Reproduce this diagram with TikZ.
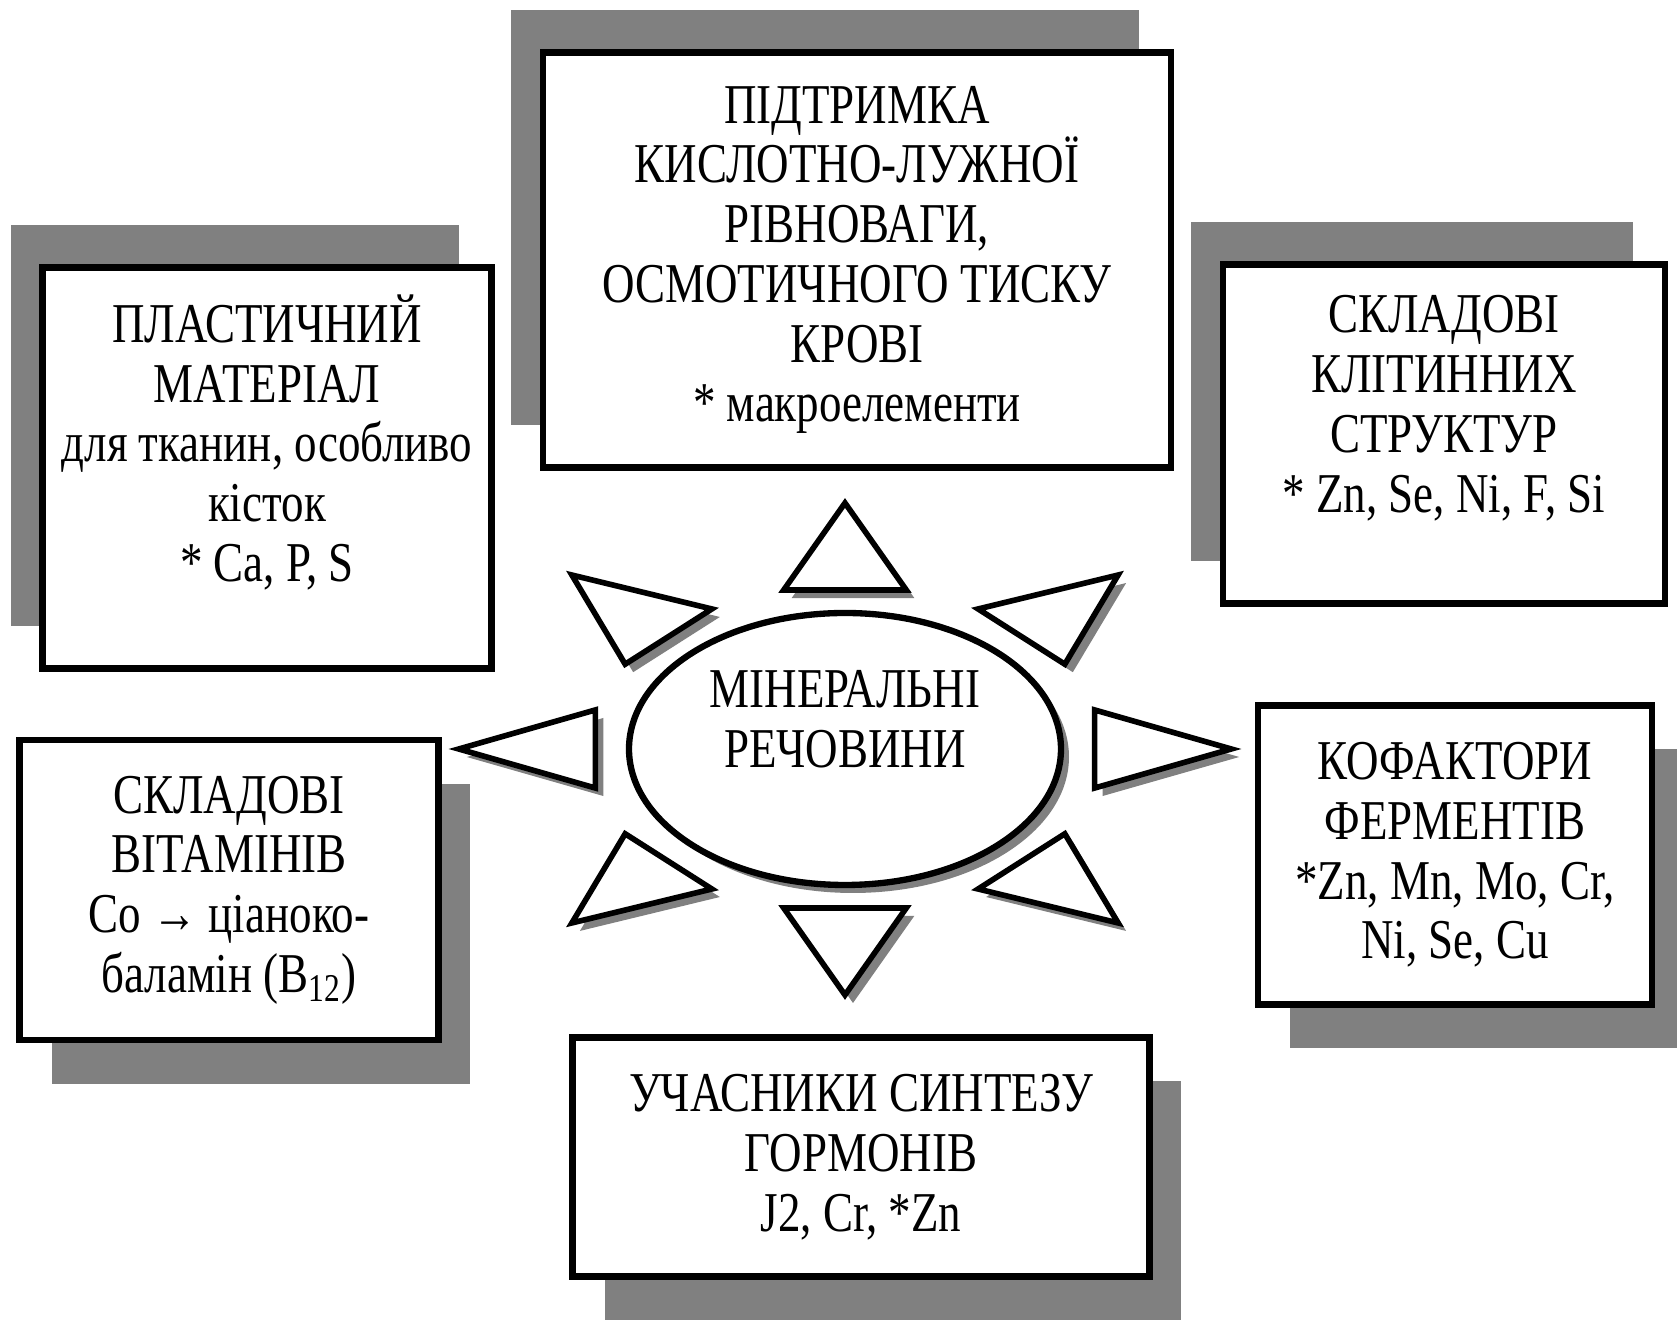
\documentclass[tikz,border=0pt]{standalone}
\usepackage{fontspec}
\setmainfont{Liberation Serif}[FakeStretch=0.8]
\usetikzlibrary{shapes.geometric,shadows}

\definecolor{boxshadow}{gray}{0.5}

\tikzset{
  box/.style={draw, line width=1.8pt, fill=white, align=center, inner sep=0pt,
    font=\fontsize{16}{17}\selectfont},
  upshadow/.style={general shadow={fill=boxshadow, shadow xshift=-3.2mm, shadow yshift=4.2mm}},
  downshadow/.style={general shadow={fill=boxshadow, shadow xshift=3.2mm, shadow yshift=-4.4mm}},
  ray/.style={draw, line width=1.6pt, fill=white, line join=miter,
    general shadow={fill=boxshadow, shadow xshift=0.8mm, shadow yshift=-0.8mm}},
  core/.style={ellipse, draw, line width=1.8pt, fill=white, inner sep=0pt, align=center,
    font=\fontsize{16}{17}\selectfont,
    general shadow={fill=boxshadow, shadow xshift=0.8mm, shadow yshift=-0.8mm}},
}

\begin{document}
\begin{tikzpicture}[x=0.1mm, y=-0.1mm]
\useasboundingbox (0,0) rectangle (1677,1322);

% boxes with shadow up-left
\node[box, upshadow, minimum width=44.9mm, minimum height=40.1mm, text depth=6mm] (plast) at (267,468)
  {ПЛАСТИЧНИЙ\\МАТЕРІАЛ\\для тканин, особливо\\кісток\\* Ca, P, S};
\node[box, upshadow, minimum width=62.8mm, minimum height=41.5mm] (acid) at (857,260)
  {ПІДТРИМКА\\КИСЛОТНО-ЛУЖНОЇ\\РІВНОВАГИ,\\ОСМОТИЧНОГО ТИСКУ\\КРОВІ\\* макроелементи};
\node[box, upshadow, minimum width=44.2mm, minimum height=33.9mm, text depth=6mm] (cell) at (1444,434)
  {СКЛАДОВІ\\КЛІТИННИХ\\СТРУКТУР\\* Zn, Se, Ni, F, Si};

% boxes with shadow down-right
\node[box, downshadow, minimum width=41.9mm, minimum height=30mm] (vit) at (229,890)
  {СКЛАДОВІ\\ВІТАМІНІВ\\Co → ціаноко-\\баламін (B\textsubscript{12})};
\node[box, downshadow, minimum width=39.4mm, minimum height=29.9mm] (cof) at (1455,855)
  {КОФАКТОРИ\\ФЕРМЕНТІВ\\*Zn, Mn, Mo, Cr,\\Ni, Se, Cu};
\node[box, downshadow, minimum width=57.7mm, minimum height=23.9mm] (horm) at (861,1157)
  {УЧАСНИКИ СИНТЕЗУ\\ГОРМОНІВ\\J2, Cr, *Zn};

% the sun
\begin{scope}[shift={(845,749)}, xscale=1.57]
\foreach \a in {0,45,...,315}
  \draw[ray] (\a:246) -- (\a+13.8:163.7) -- (\a-13.8:163.7) -- cycle;
\end{scope}
\node[core, minimum width=43.2mm, minimum height=27.2mm, text depth=6mm] (min) at (845,749)
  {МІНЕРАЛЬНІ\\РЕЧОВИНИ};

\end{tikzpicture}
\end{document}
